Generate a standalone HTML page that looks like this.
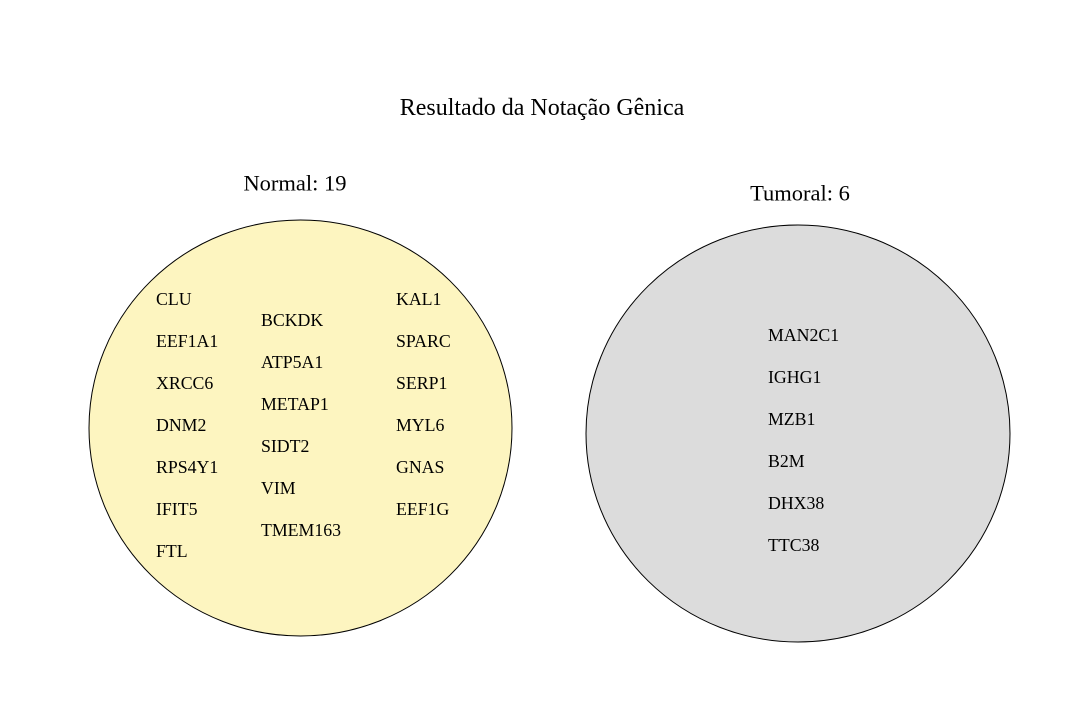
<!DOCTYPE html>
<html><head><meta charset="utf-8"><style>
html,body{margin:0;padding:0;background:#fff;}
svg{display:block;font-family:"Liberation Serif",serif;}
</style></head><body>
<svg id="chart" width="1077" height="707" viewBox="0 0 1077 707">
<text x="542" y="108" font-size="24" text-anchor="middle" dominant-baseline="central">Resultado da Notação Gênica</text>
<ellipse cx="300.5" cy="428" rx="211.5" ry="208" fill="#fdf5c0" stroke="#000" stroke-width="1"/>
<ellipse cx="798" cy="433.5" rx="212" ry="208.5" fill="#dcdcdc" stroke="#000" stroke-width="1"/>
<text x="295" y="183" font-size="22.5" text-anchor="middle" dominant-baseline="central">Normal: 19</text>
<text x="800" y="193" font-size="22.5" text-anchor="middle" dominant-baseline="central">Tumoral: 6</text>
<g id="genes"></g>
</svg>
<script>
const normalCol1 = ["CLU","EEF1A1","XRCC6","DNM2","RPS4Y1","IFIT5","FTL"];
const normalCol2 = ["BCKDK","ATP5A1","METAP1","SIDT2","VIM","TMEM163"];
const normalCol3 = ["KAL1","SPARC","SERP1","MYL6","GNAS","EEF1G"];
const tumoralGenes = ["MAN2C1","IGHG1","MZB1","B2M","DHX38","TTC38"];
const g = document.getElementById('genes');
function col(list, x, y0, step){
  list.forEach((name,i)=>{
    const t = document.createElementNS('http://www.w3.org/2000/svg','text');
    t.setAttribute('x', x);
    t.setAttribute('y', y0 + i*step);
    t.setAttribute('font-size','17.8');
    t.setAttribute('dominant-baseline','central');
    t.textContent = name;
    
    
    g.appendChild(t);
  });
}
col(normalCol1, 156, 299, 42);
col(normalCol2, 261, 320, 42);
col(normalCol3, 396, 299, 42);
col(tumoralGenes, 768, 335, 42);
</script>
</body></html>
